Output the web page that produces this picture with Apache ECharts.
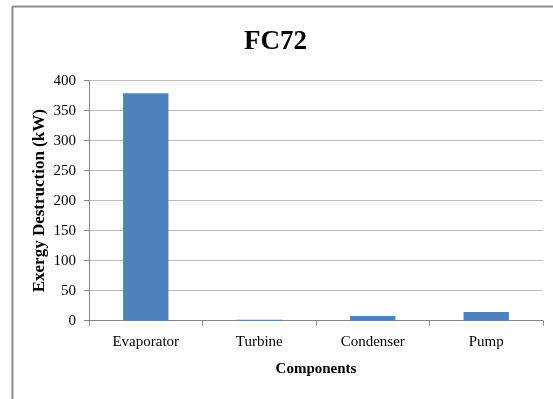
<!DOCTYPE html>
<html><head><meta charset="utf-8">
<script src="https://cdn.jsdelivr.net/npm/echarts@6/dist/echarts.min.js"></script>
<style>html,body{margin:0;padding:0;background:#fff}#c{width:553px;height:399px}</style>
</head><body><div id="c"></div>
<script>
var categories = ['Evaporator', 'Turbine', 'Condenser', 'Pump'];
var values = [379, 1.5, 8, 14.5];
var yTicks = {min: 0, max: 400, interval: 50};
var titleText = 'FC72';
var xName = 'Components';
var yName = 'Exergy Destruction (kW)';

var chart = echarts.init(document.getElementById('c'), null, {renderer: 'canvas'});
var serif = '"Liberation Serif","Times New Roman",serif';
chart.setOption({
  animation: false,
  backgroundColor: '#fff',
  graphic: [
    {type: 'line', shape: {x1: 12.5, y1: 6.5, x2: 560, y2: 6.5}, style: {stroke: '#8c8c8c', lineWidth: 2}},
    {type: 'line', shape: {x1: 12.5, y1: 6.5, x2: 12.5, y2: 410}, style: {stroke: '#8c8c8c', lineWidth: 2}}
  ],
  title: {
    text: titleText, left: 239, top: 24,
    textStyle: {fontFamily: serif, fontWeight: 'bold', fontSize: 27, color: '#000'}
  },
  grid: {left: 89, right: 10, top: 80.7, bottom: 78.3, containLabel: false},
  xAxis: {
    type: 'category', data: categories,
    name: xName, nameLocation: 'middle', nameGap: 41,
    nameTextStyle: {fontFamily: serif, fontWeight: 'bold', fontSize: 15, color: '#000'},
    axisLine: {lineStyle: {color: '#868686', width: 1}},
    axisTick: {show: true, alignWithLabel: false, length: 5, lineStyle: {color: '#868686'}},
    axisLabel: {fontFamily: serif, fontSize: 15, color: '#000', margin: 14}
  },
  yAxis: {
    type: 'value', min: yTicks.min, max: yTicks.max, interval: yTicks.interval,
    name: yName, nameLocation: 'middle', nameGap: 41, nameRotate: 90, nameMoveOverlap: false,
    nameTextStyle: {fontFamily: serif, fontWeight: 'bold', fontSize: 17, color: '#000'},
    axisLine: {show: true, lineStyle: {color: '#868686', width: 1}},
    axisTick: {show: true, length: 5, lineStyle: {color: '#868686'}},
    axisLabel: {fontFamily: serif, fontSize: 15, color: '#000', margin: 13},
    splitLine: {lineStyle: {color: '#bdbdbd', width: 1}}
  },
  series: [{
    type: 'bar', data: values, barWidth: '40%',
    itemStyle: {color: '#4f81bd'}
  }]
});
</script></body></html>
